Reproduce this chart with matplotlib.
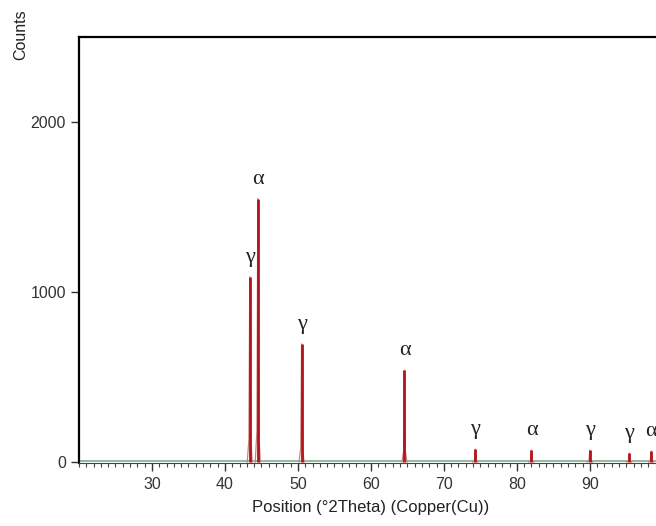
import matplotlib.pyplot as plt
from matplotlib.ticker import MultipleLocator

plt.switch_backend('Agg')

# peak positions (°2Theta), intensities (counts) and phase labels
peak_pos = [43.4, 44.5, 50.5, 64.6, 74.3, 82.0, 90.0, 95.4, 98.4]
peak_counts = [1090, 1550, 695, 540, 76, 70, 70, 53, 65]
peak_phase = ['γ', 'α', 'γ', 'α', 'γ', 'α', 'γ', 'γ', 'α']

x_ticks = [30, 40, 50, 60, 70, 80, 90]
y_ticks = [0, 1000, 2000]

fig = plt.figure(figsize=(6.56, 5.26), dpi=100)
ax = fig.add_axes([0.1204, 0.119, 0.890, 0.8106])

# baseline
ax.axhline(4, color='#86b59a', lw=1.3, zorder=1)

hw = 0.35
for p, h in zip(peak_pos, peak_counts):
    ax.plot([p - hw, p - hw / 3, p, p + hw / 3, p + hw],
            [0, 0.12 * h, h, 0.12 * h, 0], color='#c98080', lw=0.9, zorder=2)
ax.vlines(peak_pos, 0, peak_counts, color='#b3141a', lw=2.0, zorder=3)

for p, h, lab in zip(peak_pos, peak_counts, peak_phase):
    ax.annotate(lab, (p, h), xytext=(0, 14), textcoords='offset points',
                ha='center', va='center', fontsize=16,
                family='Liberation Serif', color='#222222')

ax.set_xlim(20, 100)
ax.set_ylim(-8, 2500)
ax.set_xticks(x_ticks)
ax.set_yticks(y_ticks)
ax.xaxis.set_minor_locator(MultipleLocator(1))

for s in ['left', 'top']:
    ax.spines[s].set_linewidth(1.6)
    ax.spines[s].set_color('black')
ax.spines['right'].set_visible(False)
ax.spines['bottom'].set_color('#444444')
ax.spines['bottom'].set_linewidth(0.8)

ax.tick_params(axis='both', which='major', direction='out', length=6,
               width=1, labelsize=11.5, colors='#333333')
ax.tick_params(axis='x', which='minor', direction='out', length=3, width=0.8,
               colors='#444444')
for lbl in ax.get_xticklabels() + ax.get_yticklabels():
    lbl.set_family('Liberation Sans')

ax.set_xlabel('Position (°2Theta) (Copper(Cu))', fontsize=12,
              family='Liberation Sans', color='#222222', labelpad=6)
fig.text(0.032, 0.935, 'Counts', rotation=90, ha='center', va='center',
         fontsize=11.5, family='Liberation Sans', color='#222222')

plt.savefig('out.png', dpi=100)
